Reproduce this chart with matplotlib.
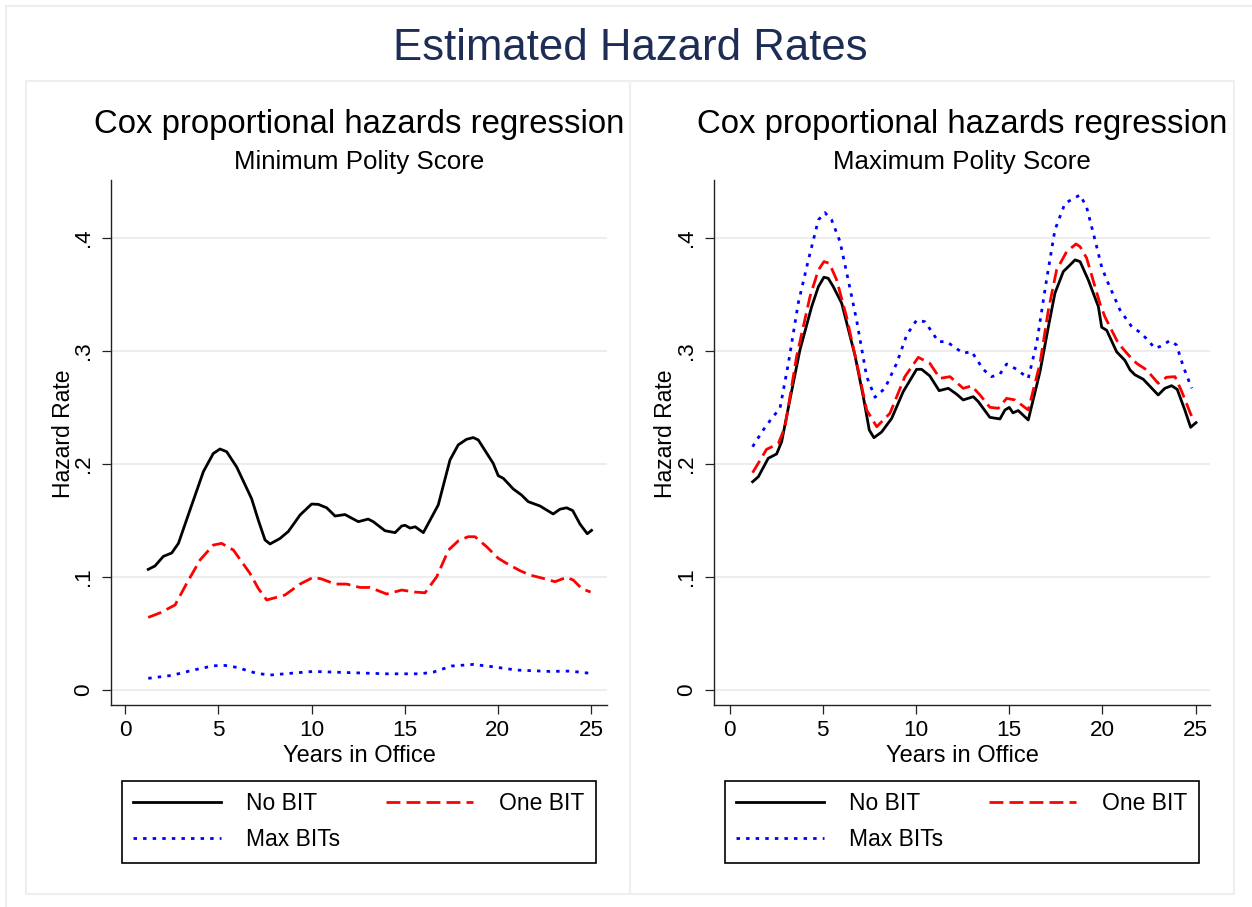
import matplotlib
matplotlib.use('Agg')
from matplotlib import pyplot as plt
from matplotlib.patches import Rectangle


# Values
# Left panel: Minimum Polity Score
min_x_none = [1.23, 1.59, 2.04, 2.49, 2.85, 3.47, 4.19, 4.72, 5.08, 5.44, 5.98, 6.78, 7.14, 7.50,
              7.77, 8.30, 8.75, 9.38, 10.0, 10.36, 10.81, 11.26, 11.79, 12.51, 13.04, 13.31, 13.94,
              14.48, 14.84, 15.02, 15.29, 15.56, 16.0, 16.8, 17.43, 17.87, 18.32, 18.68, 18.95,
              19.75, 20.02, 20.29, 20.83, 21.27, 21.63, 22.26, 22.97, 23.33, 23.69, 24.02, 24.41,
              24.8, 25.03]
min_y_none = [0.1065, 0.1095, 0.118, 0.121, 0.1295, 0.159, 0.193, 0.209, 0.213, 0.2106, 0.197,
              0.169, 0.150, 0.1325, 0.129, 0.1338, 0.140, 0.1546, 0.1643, 0.164, 0.161, 0.1537,
              0.155, 0.1487, 0.151, 0.1487, 0.1407, 0.139, 0.1449, 0.1455, 0.143, 0.1442, 0.139,
              0.1635, 0.2033, 0.2166, 0.2216, 0.2231, 0.221, 0.2003, 0.1894, 0.1871, 0.1776,
              0.1723, 0.1664, 0.1626, 0.1555, 0.1597, 0.161, 0.1585, 0.1466, 0.138, 0.141]

min_x_one = [1.23, 1.86, 2.67, 3.29, 4.01, 4.72, 5.17, 5.80, 6.69, 7.14, 7.59, 8.57, 9.38, 10.09,
             10.54, 11.26, 11.88, 12.6, 13.13, 14.03, 14.84, 15.56, 16.09, 16.72, 17.35, 17.88,
             18.41, 18.77, 19.4, 20.02, 20.47, 21.18, 21.72, 22.44, 23.07, 23.69, 24.05, 24.5,
             24.98]
min_y_one = [0.064, 0.068, 0.075, 0.094, 0.1148, 0.128, 0.1295, 0.1236, 0.103, 0.0896, 0.0794,
             0.0838, 0.0935, 0.0995, 0.098, 0.0935, 0.0935, 0.0905, 0.0905, 0.0847, 0.0882,
             0.0864, 0.0858, 0.100, 0.1236, 0.1318, 0.1354, 0.1354, 0.1265, 0.1163, 0.1118,
             0.1054, 0.1015, 0.0985, 0.0956, 0.0995, 0.097, 0.0896, 0.0864]

min_x_max = [1.23, 2.49, 3.65, 4.72, 5.35, 5.98, 7.05, 7.77, 8.84, 10.09, 11.7, 14.03, 15.82,
             16.54, 17.52, 18.68, 19.75, 21.0, 22.79, 23.87, 24.98]
min_y_max = [0.0101, 0.0127, 0.0174, 0.0212, 0.0215, 0.0198, 0.0145, 0.013, 0.0145, 0.0162,
             0.0153, 0.0141, 0.0141, 0.0156, 0.021, 0.0224, 0.0203, 0.0174, 0.0162, 0.0165,
             0.0145]

# Right panel: Maximum Polity Score
max_x_none = [1.23, 1.54, 2.07, 2.52, 2.79, 3.23, 3.77, 4.40, 4.76, 5.06, 5.29, 5.56, 6.01, 6.72,
              7.17, 7.49, 7.74, 8.15, 8.69, 9.31, 10.03, 10.30, 10.74, 11.24, 11.73, 12.17, 12.53,
              13.07, 13.34, 13.96, 14.5, 14.77, 15.0, 15.2, 15.48, 16.02, 16.65, 17.1, 17.45,
              17.9, 18.26, 18.53, 18.8, 19.24, 19.78, 19.96, 20.23, 20.76, 21.21, 21.48, 21.74,
              22.19, 22.99, 23.35, 23.71, 24.01, 24.42, 24.73, 25.02]
max_y_none = [0.184, 0.1885, 0.2048, 0.2086, 0.2195, 0.2564, 0.3006, 0.339, 0.3566, 0.365,
              0.364, 0.3566, 0.342, 0.296, 0.2593, 0.2298, 0.223, 0.228, 0.240, 0.2637, 0.2835,
              0.2835, 0.2776, 0.2646, 0.2667, 0.2616, 0.2564, 0.2593, 0.2549, 0.241, 0.2396,
              0.2475, 0.2498, 0.245, 0.247, 0.2387, 0.2814, 0.3212, 0.3508, 0.370, 0.3758, 0.3803,
              0.3788, 0.3626, 0.339, 0.3207, 0.318, 0.299, 0.2913, 0.283, 0.2787, 0.2747, 0.2608,
              0.2667, 0.269, 0.2658, 0.2475, 0.2322, 0.2363]

max_x_one = [1.23, 1.98, 2.61, 2.97, 3.59, 4.31, 4.76, 5.06, 5.35, 5.74, 6.27, 6.9, 7.35, 7.89,
             8.6, 9.4, 10.12, 10.74, 11.28, 11.82, 12.53, 12.98, 13.43, 13.96, 14.41, 14.86,
             15.31, 16.02, 16.65, 17.1, 17.54, 18.08, 18.58, 18.8, 19.15, 19.86, 20.13, 20.85,
             21.39, 21.83, 22.37, 22.99, 23.44, 23.89, 24.25, 24.79, 25.02]
max_y_one = [0.192, 0.2127, 0.2177, 0.2327, 0.2947, 0.3478, 0.3714, 0.3788, 0.3773, 0.3626,
             0.330, 0.283, 0.2475, 0.2327, 0.2446, 0.277, 0.2941, 0.2888, 0.2755, 0.277, 0.2667,
             0.2688, 0.2608, 0.2499, 0.249, 0.2578, 0.2564, 0.2475, 0.2888, 0.336, 0.3714,
             0.3876, 0.3944, 0.392, 0.382, 0.342, 0.330, 0.3065, 0.2962, 0.2888, 0.283, 0.2711,
             0.2765, 0.277, 0.264, 0.2416, 0.2387]

max_x_max = [1.23, 1.8, 2.25, 2.7, 3.15, 3.68, 4.22, 4.76, 5.11, 5.47, 5.92, 6.36, 6.81, 7.35,
             7.8, 8.33, 8.96, 9.5, 10.03, 10.48, 11.2, 11.64, 12.53, 12.98, 13.6, 14.05, 14.5,
             14.86, 15.4, 16.02, 16.47, 17.0, 17.45, 17.99, 18.8, 19.15, 19.6, 19.96, 20.23,
             20.94, 21.57, 22.1, 22.82, 23.08, 23.62, 23.97, 24.34, 24.79]
max_y_max = [0.215, 0.2298, 0.240, 0.249, 0.2888, 0.342, 0.380, 0.4157, 0.4221, 0.4157, 0.3965,
             0.3626, 0.327, 0.277, 0.2588, 0.2667, 0.2888, 0.3139, 0.327, 0.3256, 0.308, 0.308,
             0.2977, 0.2992, 0.2835, 0.277, 0.2793, 0.2882, 0.2835, 0.2755, 0.3065, 0.3626,
             0.4068, 0.4304, 0.4378, 0.427, 0.398, 0.374, 0.3626, 0.336, 0.3212, 0.3153, 0.3021,
             0.3036, 0.3089, 0.3051, 0.2858, 0.2667]

x_ticks = [0, 5, 10, 15, 20, 25]
y_ticks = [0, 0.1, 0.2, 0.3, 0.4]
y_tick_labels = ['0', '.1', '.2', '.3', '.4']
series_labels = ['No BIT', 'One BIT', 'Max BITs']
panel_subtitles = ['Minimum Polity Score', 'Maximum Polity Score']


# Figure setup (pixel layout of a 1252x907 picture)
W, H = 1252, 907
plt.rcParams['font.family'] = ['Liberation Sans', 'DejaVu Sans']
fig = plt.figure(figsize=(W / 100, H / 100), dpi=100)
fig.patch.set_facecolor('white')


def fig_rect(x0, y0, x1, y1):
    return (x0 / W, 1 - y1 / H, (x1 - x0) / W, (y1 - y0) / H)


# Light outer frame and panel frames
fig.add_artist(Rectangle((6 / W, -0.05), 1.1, 1 - 6 / H + 0.05, transform=fig.transFigure,
                         fill=False, ec='#e4eef0', lw=1.2))
for x0, x1 in [(26, 630), (630, 1234)]:
    r = fig_rect(x0, 81, x1, 894)
    fig.add_artist(Rectangle(r[:2], r[2], r[3], transform=fig.transFigure,
                             fill=False, ec='#efefef', lw=1.5))

fig.text(630 / W, 1 - 49 / H, 'Estimated Hazard Rates', ha='center', va='center',
         fontsize=31.5, color='#1e2d55')

panels = [
    (111, 607, (-0.77, 25.86), (min_x_none, min_y_none), (min_x_one, min_y_one), (min_x_max, min_y_max)),
    (714, 1210, (-0.84, 25.77), (max_x_none, max_y_none), (max_x_one, max_y_one), (max_x_max, max_y_max)),
]

for i, (px0, px1, xlim, s_none, s_one, s_max) in enumerate(panels):
    ax = fig.add_axes(fig_rect(px0, 180, px1, 705))
    ax.set_facecolor('white')
    cx = (px0 + px1) / 2

    # Grid
    for yv in y_ticks:
        ax.axhline(yv, color='#e8e8e8', lw=1.1, zorder=0)

    l_none, = ax.plot(s_none[0], s_none[1], color='black', lw=2.0, label=series_labels[0])
    l_one, = ax.plot(s_one[0], s_one[1], color='#ff0000', lw=2.0, ls=(0, (5.0, 2.2)),
                     label=series_labels[1])
    l_max, = ax.plot(s_max[0], s_max[1], color='#0000ff', lw=2.0, ls=(0, (1.25, 2.2)),
                     label=series_labels[2])

    ax.set_xlim(*xlim)
    ax.set_ylim(-0.0135, 0.451)
    ax.set_xticks(x_ticks)
    ax.set_yticks(y_ticks)
    ax.set_yticklabels(y_tick_labels)
    for side in ['top', 'right']:
        ax.spines[side].set_visible(False)
    for side in ['left', 'bottom']:
        ax.spines[side].set_color('#222222')
        ax.spines[side].set_linewidth(1.0)
    ax.tick_params(direction='out', length=6.5, width=0.9, color='#222222',
                   labelsize=16.2, pad=4)
    ax.tick_params(axis='y', labelrotation=90, pad=6)
    for lab in ax.get_yticklabels():
        lab.set_va('center')

    ax.set_xlabel('Years in Office', fontsize=17, labelpad=3)
    ax.set_ylabel('Hazard Rate', fontsize=16.5)
    ax.yaxis.label.set_va('center')
    ax.yaxis.set_label_coords((px0 - 48 - px0) / (px1 - px0), (705 - 434) / 525)

    fig.text(cx / W, 1 - 124 / H, 'Cox proportional hazards regression', ha='center',
             va='center', fontsize=23.7)
    fig.text(cx / W, 1 - 162 / H, panel_subtitles[i], ha='center', va='center', fontsize=18.6)

    leg = ax.legend(handles=[l_none, l_max, l_one], ncol=2, fontsize=16.5,
                    loc='upper center', bbox_to_anchor=(cx / W, 1 - 781 / H),
                    bbox_transform=fig.transFigure, borderaxespad=0,
                    handlelength=3.8, handletextpad=1.13, columnspacing=2.0,
                    borderpad=0.5, labelspacing=0.55, fancybox=False, framealpha=1)
    leg.get_frame().set_edgecolor('black')
    leg.get_frame().set_linewidth(1.2)

plt.savefig('out.png', dpi=100)
